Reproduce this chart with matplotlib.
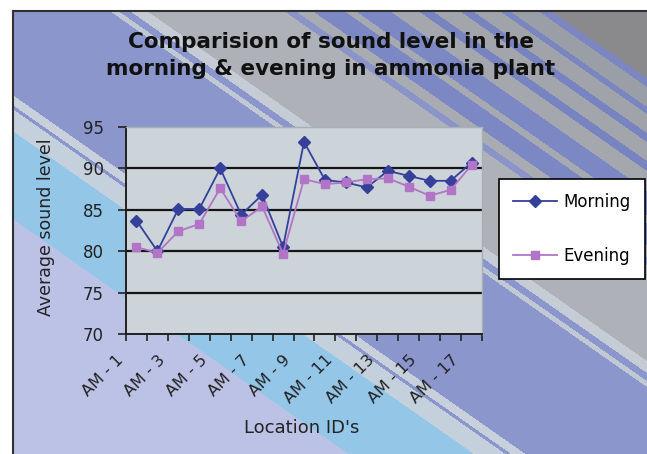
import numpy as np
import matplotlib
matplotlib.use("Agg")
import matplotlib.pyplot as plt
from matplotlib.lines import Line2D
from matplotlib.transforms import ScaledTranslation
from matplotlib.colors import to_rgb

# sound level readings per location (dB)
locations = ["AM - 1", "AM - 2", "AM - 3", "AM - 4", "AM - 5", "AM - 6",
             "AM - 7", "AM - 8", "AM - 9", "AM - 10", "AM - 11", "AM - 12",
             "AM - 13", "AM - 14", "AM - 15", "AM - 16", "AM - 17"]
morning = [83.7, 80.0, 85.1, 85.1, 90.0, 84.4, 86.8, 80.5, 93.2,
           88.6, 88.3, 87.7, 89.7, 89.1, 88.5, 88.5, 90.7]
evening = [80.5, 79.8, 82.4, 83.3, 87.6, 83.6, 85.4, 79.7, 88.7,
           88.1, 88.3, 88.7, 88.8, 87.8, 86.7, 87.4, 90.4]
y_ticks = [70, 75, 80, 85, 90, 95]

W, H = 647, 454
fig = plt.figure(figsize=(W / 100, H / 100), dpi=100)
fig.patch.set_facecolor("white")

# diagonal banded fill behind the chart (upper edge of each band, colour)
bands = [
    (-375, "#8a8a8c"), (-366, "#7c86c0"), (-346, "#9a9ea6"), (-339, "#7a86c0"),
    (-320, "#a0a4aa"), (-311, "#7884c0"), (-292, "#a2a6ac"), (-282, "#7884c0"),
    (-262, "#a4a8ae"), (-238, "#7c88c4"), (-230, "#a6aab0"), (-208, "#7c88c4"),
    (-196, "#a8acb2"), (-188, "#8a94c8"), (-92, "#aeb2b8"), (-80, "#c6ccd6"),
    (-72, "#8a96cc"), (-66, "#c0c8d4"), (86, "#8a96cc"), (96, "#c8d0dc"),
    (100, "#8a96cc"), (122, "#c4d0dc"), (210, "#94c6e8"), (1e9, "#bcc2e6"),
]
edges = np.array([b[0] for b in bands])
cols = np.array([to_rgb(b[1]) for b in bands])
yy, xx = np.mgrid[0:H, 0:W]
s = yy - 0.7 * xx
img = cols[np.searchsorted(edges, s)]
img[:11, :] = 1.0
img[:, :13] = 1.0

bg = fig.add_axes([0, 0, 1, 1])
bg.imshow(img, aspect="auto", interpolation="nearest")
bg.set_axis_off()

fig.add_artist(Line2D([13 / W, 13 / W], [0, 1 - 11 / H], transform=fig.transFigure,
                      color="#303030", lw=1.5))
fig.add_artist(Line2D([13 / W, 1], [1 - 11 / H, 1 - 11 / H], transform=fig.transFigure,
                      color="#303030", lw=1.5))

# plot area
ax = fig.add_axes([126 / W, 1 - 334 / H, 356 / W, 207 / H])
ax.set_facecolor("#ccd4d9")
x = np.arange(1, len(locations) + 1)

ax.plot(x, morning, color="#34409a", lw=1.3, marker="D", ms=6, label="Morning", zorder=3)
ax.plot(x, evening, color="#b274c6", lw=1.3, marker="s", ms=5.5, label="Evening", zorder=4)

ax.set_xlim(0.5, len(locations) + 0.5)
ax.set_ylim(70, 95)
ax.set_yticks(y_ticks)
for v in y_ticks[1:-1]:
    ax.axhline(v, color="#151515", lw=1.6, zorder=2)

ax.set_xticks(x[::2])
ax.set_xticklabels(locations[::2], rotation=45, ha="right", va="top",
                   rotation_mode="anchor", fontsize=11.5, color="#222222")
ax.set_xticks(np.arange(0.5, len(locations) + 1), minor=True)
ax.tick_params(axis="x", which="major", length=0, pad=13)
ax.tick_params(axis="x", which="minor", length=5, width=1.2, direction="out", color="#222222")
ax.tick_params(axis="y", length=6, width=1.2, direction="out", pad=10,
               labelsize=12, labelcolor="#222222", color="#222222")
shift = ScaledTranslation(-0.21, 0, fig.dpi_scale_trans)
for lbl in ax.get_xticklabels():
    lbl.set_transform(lbl.get_transform() + shift)

for side in ["left", "bottom"]:
    ax.spines[side].set_color("#202020")
    ax.spines[side].set_linewidth(1.4)
for side in ["top", "right"]:
    ax.spines[side].set_color("#a8b0b4")
    ax.spines[side].set_linewidth(1.0)

fig.text(331 / W, 1 - 55.5 / H,
         "Comparision of sound level in the\nmorning & evening in ammonia plant",
         ha="center", va="center", fontsize=15.5, fontweight="bold",
         linespacing=1.45, color="#111111")
fig.text(302 / W, 1 - 428 / H, "Location ID's", ha="center", va="center",
         fontsize=13, color="#222222")
fig.text(46 / W, 1 - 227 / H, "Average sound level", rotation=90,
         ha="center", va="center", fontsize=12.5, color="#222222")

leg = fig.legend(loc="upper left", bbox_to_anchor=(499 / W, 1 - 179 / H),
                 borderaxespad=0, frameon=True, fancybox=False, framealpha=1,
                 edgecolor="black", fontsize=12, borderpad=0.85, labelspacing=2.15,
                 handlelength=2.6, handletextpad=0.42)
leg.get_frame().set_linewidth(1.2)

fig.savefig("out.png", dpi=100)
